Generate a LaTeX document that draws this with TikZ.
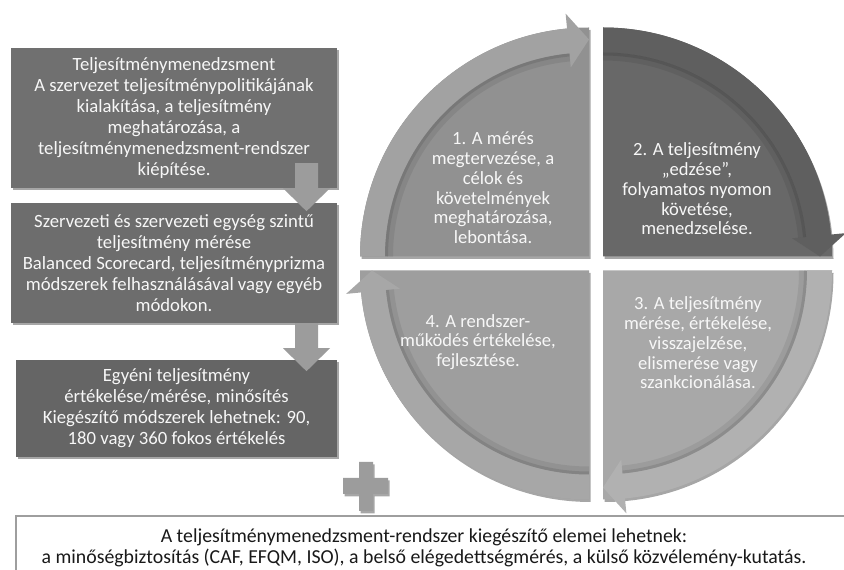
\documentclass[tikz,border=0pt]{standalone}
\usepackage{fontspec}
\setmainfont{Carlito}
\usetikzlibrary{calc,shadows}

\definecolor{boxone}{HTML}{707070}
\definecolor{boxtwo}{HTML}{6D6D6D}
\definecolor{boxthree}{HTML}{656565}
\definecolor{blockgray}{HTML}{9C9C9C}
\definecolor{qonebody}{HTML}{919191}
\definecolor{qoneband}{HTML}{A2A2A2}
\definecolor{qtwobody}{HTML}{686868}
\definecolor{qtwoband}{HTML}{5F5F5F}
\definecolor{qthreebody}{HTML}{A8A8A8}
\definecolor{qthreeband}{HTML}{B1B1B1}
\definecolor{qfourbody}{HTML}{9E9E9E}
\definecolor{qfourband}{HTML}{A7A7A7}
\definecolor{notebord}{HTML}{9E9E9E}
\definecolor{lighttext}{HTML}{F7F7F7}

\tikzset{
  softshadow/.style={drop shadow={shadow xshift=1.5pt, shadow yshift=-2.5pt, opacity=0.35, fill=black}},
  leftbox/.style={rectangle, draw=none, text=lighttext, align=center,
    inner sep=0pt, font=\fontsize{18.7}{21}\selectfont, softshadow},
  quadtext/.style={text=lighttext, align=center, inner sep=0pt,
    font=\fontsize{18.6}{19.8}\selectfont},
  blockarrow/.style={fill=blockgray},
  notebox/.style={rectangle, draw=notebord, line width=1.3pt, fill=white, softshadow},
  notetext/.style={align=center, inner sep=0pt, text=black!90,
    font=\fontsize{19.8}{21}\selectfont},
}

% one quarter of the cycle: body, curved band with an arrow head, inner shade
% #1 corner, #2 start angle, #3 end angle, #4 head base angle, #5 body, #6 band
\newcommand\cyclequarter[6]{%
  \fill[#5, softshadow] (#1) -- ($(#1)+(#2:229)$) arc[start angle=#2, end angle=#3, radius=229] -- cycle;
  \fill[#6] ($(#1)+(#2:229)$) arc[start angle=#2, end angle=#4, radius=229]
    -- ($(#1)+(#4:244)$) -- ($(#1)+(#3:217)$) -- ($(#1)+(#4:190)$)
    -- ($(#1)+(#4:204)$) arc[start angle=#4, end angle=#2, radius=204] -- cycle;
  \draw[black, opacity=0.07, line width=8pt] ($(#1)+(#2:200)$) arc[start angle=#2, end angle=#4, radius=200];
  \draw[black, opacity=0.10, line width=3pt] ($(#1)+(#2:202.5)$) arc[start angle=#2, end angle=#4, radius=202.5];
}

\begin{document}
\begin{tikzpicture}[x=1pt, y=1pt]
\clip (0,0) rectangle (844,570);
\fill[white] (0,0) rectangle (844,570);

% supplementary elements
\node[notebox, minimum width=854pt, minimum height=74pt] (note) at (443,17) {};
\node[notetext] (notetxt) at (424,22.5)
  {A teljesítménymenedzsment-rendszer kiegészítő elemei lehetnek:\\
   a minőségbiztosítás (CAF, EFQM, ISO), a belső elégedettségmérés, a külső közvélemény-kutatás.};

% plus sign
\coordinate (plus) at (366,84);
\fill[blockgray, softshadow] ($(plus)+(-23,-8)$) -- ($(plus)+(-7,-8)$) -- ($(plus)+(-7,-25)$)
  -- ($(plus)+(7,-25)$) -- ($(plus)+(7,-8)$) -- ($(plus)+(22,-8)$) -- ($(plus)+(22,8)$)
  -- ($(plus)+(7,8)$) -- ($(plus)+(7,24)$) -- ($(plus)+(-7,24)$) -- ($(plus)+(-7,8)$)
  -- ($(plus)+(-23,8)$) -- cycle;

% the four quarters of the cycle
\cyclequarter{589,313.5}{180}{90}{95.5}{qonebody}{qoneband}
\cyclequarter{603,313.5}{90}{0}{5.5}{qtwobody}{qtwoband}
\cyclequarter{603,299.5}{0}{-90}{-84.5}{qthreebody}{qthreeband}
\cyclequarter{589,299.5}{-90}{-180}{-174.5}{qfourbody}{qfourband}

\node[quadtext] (qone) at (493,382)
  {1. A mérés\\megtervezése, a\\célok és\\követelmények\\meghatározása,\\lebontása.};
\node[quadtext] (qtwo) at (697,381)
  {2. A teljesítmény\\„edzése”,\\folyamatos nyomon\\követése,\\menedzselése.};
\node[quadtext] (qthree) at (698,227)
  {3. A teljesítmény\\mérése, értékelése,\\visszajelzése,\\elismerése vagy\\szankcionálása.};
\node[quadtext] (qfour) at (478,228)
  {4. A rendszer-\\működés értékelése,\\fejlesztése.};

% left column of levels
\node[leftbox, fill=boxone, minimum width=326pt, minimum height=140pt] (lvlone) at (174,452)
  {Teljesítménymenedzsment\\A szervezet teljesítménypolitikájának\\kialakítása, a teljesítmény\\meghatározása, a\\teljesítménymenedzsment-rendszer\\kiépítése.};
\node[leftbox, fill=boxtwo, minimum width=326pt, minimum height=120pt] (lvltwo) at (174,307)
  {Szervezeti és szervezeti egység szintű\\teljesítmény mérése\\Balanced Scorecard, teljesítményprizma\\módszerek felhasználásával vagy egyéb\\módokon.};
\node[leftbox, fill=boxthree, minimum width=321pt, minimum height=97pt] (lvlthree) at (176.5,161.5)
  {Egyéni teljesítmény\\értékelése/mérése, minősítés\\Kiegészítő módszerek lehetnek: 90,\\180 vagy 360 fokos értékelés};

% block arrows between the levels
\fill[blockarrow, shift={(lvlone.south)}] (121,25) -- (144,25) -- (144,0) -- (156,0)
  -- (132.5,-23) -- (109,0) -- (121,0) -- cycle;
\fill[blockarrow, shift={(lvltwo.south)}] (121,0) -- (144,0) -- (144,-25) -- (156,-25)
  -- (132.5,-48) -- (109,-25) -- (121,-25) -- cycle;
\end{tikzpicture}
\end{document}
